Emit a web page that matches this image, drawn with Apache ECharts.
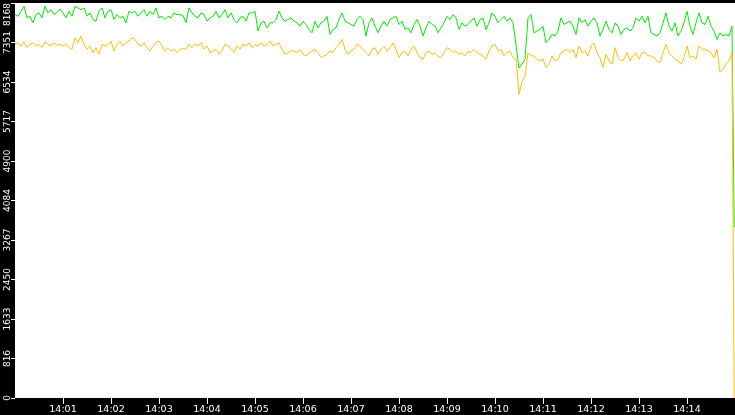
<!DOCTYPE html>
<html>
<head>
<meta charset="utf-8">
<script src="https://cdn.jsdelivr.net/npm/echarts@6/dist/echarts.min.js"></script>
<style>
html,body{margin:0;padding:0;background:#000;}
#chart{width:735px;height:415px;}
</style>
</head>
<body>
<div id="chart"></div>
<script>
// Series values, one sample every 3.75 s from 14:00:00, final sample at 14:14:59
const greenValues = [
7928,7894,7997,8100,7860,7894,7758,7929,7963,7860,8100,7963,8031,7929,7977,8045,7963,7860,7997,7894,8100,8065,8031,8065,7894,7963,7826,7792,7997,8065,7860,7997,8031,7826,7929,7860,7894,7758,7997,7963,
7997,7894,7963,8031,7894,7997,7929,8065,7860,7894,7826,7894,7860,7963,7929,7929,7908,7758,8065,7963,7894,7860,7963,7929,7792,7860,7894,7997,7860,7929,8031,7860,7963,7826,7758,7860,7894,7792,7963,7963,
7997,7587,7758,7792,7655,7758,7758,7826,7997,7860,7792,7826,7860,7792,7758,7689,7792,7723,7621,7552,7792,7655,7758,7792,7894,7518,7621,7655,7826,7963,7792,7758,7723,7689,7826,7894,7826,7484,7758,7860,
7689,7552,7689,7792,7689,7826,7860,7894,7723,7792,7621,7655,7552,7723,7826,7689,7484,7655,7792,7723,7689,7552,7655,7758,7894,7826,7929,7860,7621,7758,7689,7723,7792,7860,7689,7826,7860,7621,7758,7963,
7894,7758,7826,7894,7792,7860,7758,7300,6820,6900,7000,7860,7929,7552,7587,7621,7689,7347,7416,7518,7484,7587,7860,7723,7758,7792,7689,7518,7860,7758,7826,7689,7792,7860,7758,7484,7621,7792,7621,7552,
7758,7689,7518,7621,7655,7587,7655,7860,7792,7894,7758,7894,7552,7518,7484,7552,7758,7963,7689,7587,7758,7484,7587,7758,7997,7689,7518,7758,7963,7758,7723,7894,7689,7587,7416,7552,7484,7518,7484,7689,
3530
];
const orangeValues = [
7313,7347,7279,7361,7245,7313,7347,7279,7313,7245,7361,7313,7279,7347,7292,7313,7279,7313,7245,7210,7450,7347,7484,7313,7210,7279,7142,7245,7108,7313,7279,7313,7381,7176,7313,7381,7279,7347,7381,7450,
7416,7313,7279,7347,7245,7176,7279,7347,7381,7279,7176,7245,7176,7210,7142,7210,7224,7210,7313,7245,7313,7279,7347,7210,7279,7142,7176,7210,7108,7176,7313,7279,7210,7142,7279,7210,7313,7279,7347,7245,
7313,7279,7347,7279,7313,7381,7279,7313,7347,7210,7108,7142,7176,7176,7142,7210,7108,7074,7142,7176,7210,7142,7039,7074,7108,7176,7142,7245,7313,7416,7210,7108,7176,7210,7313,7279,7210,7142,7074,7210,
7245,7108,7210,7279,7176,7245,7347,7210,7039,7142,7176,7074,7210,7279,7142,7039,7005,7142,7176,7108,7142,7074,7039,7142,7245,7210,7142,7176,7108,7142,7074,7176,7142,7210,7142,7108,7074,7005,7176,7279,
7313,7176,7210,7074,7142,7176,7039,7000,6280,6550,6650,7142,7074,7074,7005,6971,7005,6834,6903,7074,6971,7005,7142,7176,7210,7142,7210,7039,7279,7142,7176,7074,7279,7347,7142,7039,6834,7108,6971,6903,
7245,7039,6971,7005,7142,6971,7074,7142,7005,7142,7142,7074,7074,7039,6971,6937,7142,7313,7142,7074,7005,6971,6903,7039,7279,7039,7074,7005,7279,7210,7210,7176,7142,7039,7210,6732,6800,6903,6971,7142,
0
];
const sampleStepSeconds = 3.75;
const lastSampleSecond = 899;
const startHour = 14;
const xMaxSeconds = 900;
const xStepSeconds = 60;
const yMax = 8168;
const yStep = 816.8;

function secondsOf(i, n) { return i === n - 1 ? lastSampleSecond : i * sampleStepSeconds; }
const greenData = greenValues.map((v, i) => [secondsOf(i, greenValues.length), v]);
const orangeData = orangeValues.map((v, i) => [secondsOf(i, orangeValues.length), v]);

const chart = echarts.init(document.getElementById('chart'), null, {renderer: 'canvas'});
const font = 'DejaVu Sans';
chart.setOption({
  animation: false,
  backgroundColor: '#000000',
  grid: [
    {left: 15, right: 0, top: 0, bottom: 17, show: true, backgroundColor: '#ffffff', borderWidth: 0, containLabel: false},
    {left: 15, right: 0, top: 398, height: 6, show: false, containLabel: false}
  ],
  xAxis: [
    {
      gridIndex: 0, type: 'value', min: 0, max: xMaxSeconds, interval: xStepSeconds,
      axisLine: {show: false}, axisTick: {show: false}, axisLabel: {show: false}, splitLine: {show: false}
    },
    {
      gridIndex: 1, type: 'value', position: 'bottom', min: 0, max: xMaxSeconds, interval: xStepSeconds,
      axisLine: {show: false},
      axisTick: {show: false},
      splitLine: {show: true, showMinLine: false, showMaxLine: false, lineStyle: {color: '#ffffff', width: 1, type: 'solid'}},
      axisLabel: {
        color: '#ffffff', fontFamily: font, fontSize: 9.5, margin: 1,
        showMinLabel: false, showMaxLabel: false,
        formatter: v => startHour + ':' + String(Math.round(v / 60)).padStart(2, '0')
      }
    }
  ],
  yAxis: [
    {
      gridIndex: 0, type: 'value', min: 0, max: yMax, interval: yStep,
      axisLine: {show: false},
      splitLine: {show: false},
      axisTick: {show: true, length: 4, lineStyle: {color: '#ffffff', width: 1}},
      axisLabel: {
        color: '#ffffff', fontFamily: font, fontSize: 9, rotate: 90, margin: 3,
        alignMaxLabel: 'right',
        formatter: v => String(Math.floor(v + 1e-6))
      }
    },
    {
      gridIndex: 1, type: 'value', min: 0, max: 1, show: false, splitLine: {show: false}
    }
  ],
  series: [
    {type: 'line', xAxisIndex: 0, yAxisIndex: 0, data: greenData, showSymbol: false, symbol: 'none', lineStyle: {color: '#00ee00', width: 1}, itemStyle: {color: '#00ee00'}},
    {type: 'line', xAxisIndex: 0, yAxisIndex: 0, data: orangeData, showSymbol: false, symbol: 'none', lineStyle: {color: '#ffc000', width: 1}, itemStyle: {color: '#ffc000'}}
  ]
});
</script>
</body>
</html>
